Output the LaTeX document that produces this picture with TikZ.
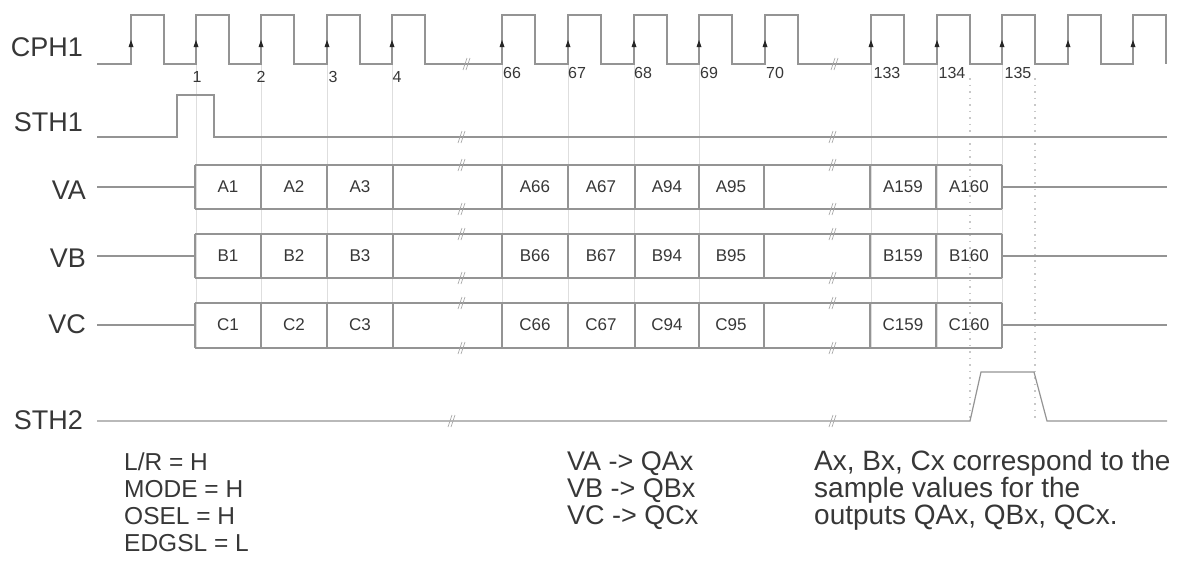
\documentclass[tikz,border=0pt]{standalone}
\usepackage{fontspec}
\setmainfont{Liberation Sans}
\definecolor{wavegray}{RGB}{148,148,148}
\definecolor{guidegray}{RGB}{222,222,222}
\definecolor{dotgray}{RGB}{200,200,200}
\definecolor{brkgray}{RGB}{170,170,170}
\definecolor{txt}{RGB}{55,55,55}
\begin{document}
\begin{tikzpicture}[x=1pt,y=-1pt,
  wave/.style={draw=wavegray,line width=1.2pt},
  guide/.style={draw=guidegray,line width=0.8pt},
  dotguide/.style={draw=dotgray,line width=1.2pt,dash pattern=on 1.5pt off 5pt},
  brk/.style={draw=brkgray,line width=0.7pt},
  sig/.style={font=\fontsize{27}{27}\selectfont,text=txt,anchor=base east,inner sep=0pt},
  num/.style={font=\fontsize{16}{16}\selectfont,text=txt,inner sep=0pt},
  cell/.style={font=\fontsize{17}{17}\selectfont,text=txt,inner sep=0pt},
  note/.style={text=txt,anchor=base west,inner sep=0pt},
  tickmark/.style={fill=black!85},
  brkmk/.pic={\draw[brk] (-4,6) -- (0,-6) (-1,6) -- (3,-6);}]
\useasboundingbox (0,0) rectangle (1186,565);

% guide lines
\foreach \x in {196,261,327,392,502,568,634,699,871,937,1002}
  \draw[guide] (\x,64) -- (\x,348);
\foreach \x in {970,1035}
  \draw[dotguide] (\x,78) -- (\x,421);

% CPH1
\draw[wave] (97,64) \foreach \r in {131,196,261,327,392,502,568,634,699,765,871,937,1002,1068,1133}
  { -- (\r,64) -- (\r,15) -- ({\r+33},15) -- ({\r+33},64) };
\foreach \r in {131,196,261,327,392,502,568,634,699,765,871,937,1002,1068,1133}
  \fill[tickmark] ({\r-2.5},47) -- ({\r+2.5},47) -- (\r,40) -- cycle;

% STH1
\draw[wave] (97,137) -- (177,137) -- (177,95) -- (214,95) -- (214,137) -- (1167,137);

% buses
\foreach \t/\b/\c in {165/209/187, 234/278/256, 303/348/325} {
  \draw[wave] (97,\c) -- (195,\c);
  \draw[wave] (195,\t) -- (1002,\t) (195,\b) -- (1002,\b);
  \foreach \x in {195,261,327,393,502,568,635,699,764,870,936,1002}
    \draw[wave] (\x,\t) -- (\x,\b);
  \draw[wave] (1002,\c) -- (1167,\c);
  \pic at (462,\t) {brkmk};
  \pic at (462,\b) {brkmk};
  \pic at (833,\t) {brkmk};
  \pic at (833,\b) {brkmk};
}

% STH2
\draw[wave] (97,421) -- (970,421) -- (981,372) -- (1034,372) -- (1047,421) -- (1167,421);

% break marks on single lines
\pic at (467,64) {brkmk};
\pic at (835,64) {brkmk};
\pic at (462,137) {brkmk};
\pic at (833,137) {brkmk};
\pic at (452,421) {brkmk};
\pic at (833,421) {brkmk};

% cell texts
\foreach \lab/\x in {1/228,2/294,3/360,66/535,67/601,94/667,95/731,159/903,160/969} {
  \node[cell] (A\lab) at (\x,187) {A\lab};
  \node[cell] (B\lab) at (\x,256) {B\lab};
  \node[cell] (C\lab) at (\x,325) {C\lab};
}

% clock numbers
\foreach \n/\x/\y in {1/197/77,2/261/77,3/333/77,4/397/77,66/512/73,67/577/73,68/643/73,69/709/73,70/775/73,133/887/73,134/952/73,135/1018/73}
  \node[num] (n\n) at (\x,\y) {\n};

% signal names
\node[sig] (lCPH) at (83,56) {CPH1};
\node[sig] (lSTH1) at (83,131) {STH1};
\node[sig] (lVA) at (86,199) {VA};
\node[sig] (lVB) at (86,267) {VB};
\node[sig] (lVC) at (86,333) {VC};
\node[sig] (lSTH2) at (83,429) {STH2};

% notes
\begin{scope}[every node/.append style={font=\fontsize{24.5}{24.5}\selectfont}]
\node[note] (m1) at (124,470) {L/R = H};
\node[note] (m2) at (124,497) {MODE = H};
\node[note] (m3) at (124,524) {OSEL = H};
\node[note] (m4) at (124,551) {EDGSL = L};
\end{scope}
\begin{scope}[every node/.append style={font=\fontsize{27}{27}\selectfont}]
\node[note] (v1) at (567,470) {VA -> QAx};
\node[note] (v2) at (567,497) {VB -> QBx};
\node[note] (v3) at (567,524) {VC -> QCx};
\end{scope}
\begin{scope}[every node/.append style={font=\fontsize{28}{28}\selectfont}]
\node[note] (r1) at (814,470) {Ax, Bx, Cx correspond to the};
\node[note] (r2) at (814,497) {sample values for the};
\node[note] (r3) at (814,524) {outputs QAx, QBx, QCx.};
\end{scope}
\end{tikzpicture}
\end{document}
